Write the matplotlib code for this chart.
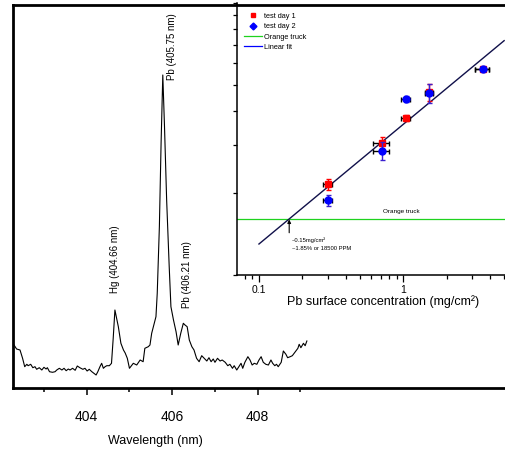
import matplotlib
matplotlib.use("Agg")
import matplotlib.pyplot as plt
from matplotlib.lines import Line2D
from matplotlib.ticker import FixedLocator, NullFormatter, NullLocator

plt.rcParams['font.family'] = ['Liberation Sans', 'DejaVu Sans']

# ---------------- spectrum data ----------------
wavelength = [402.27, 402.30, 402.36, 402.44, 402.50, 402.55, 402.60, 402.63, 402.69, 402.74,
              402.79, 402.83, 402.89, 402.95, 403.00, 403.05, 403.08, 403.13, 403.20, 403.26,
              403.30, 403.36, 403.42, 403.47, 403.52, 403.57, 403.61, 403.67, 403.73, 403.78,
              403.84, 403.91, 403.96, 404.01, 404.06, 404.12, 404.17, 404.22, 404.26, 404.31,
              404.35, 404.39, 404.43, 404.47, 404.53, 404.58, 404.62, 404.66, 404.74, 404.80,
              404.86, 404.90, 404.95, 405.00, 405.09, 405.17, 405.25, 405.32, 405.36, 405.44,
              405.48, 405.52, 405.56, 405.62, 405.65, 405.70, 405.74, 405.78, 405.82, 405.87,
              405.93, 405.97, 406.03, 406.09, 406.14, 406.20, 406.26, 406.30, 406.35, 406.40,
              406.46, 406.51, 406.57, 406.63, 406.69, 406.75, 406.81, 406.86, 406.91, 406.96,
              407.00, 407.06, 407.12, 407.17, 407.24, 407.30, 407.35, 407.41, 407.45, 407.51,
              407.56, 407.61, 407.65, 407.70, 407.77, 407.82, 407.87, 407.92, 407.98, 408.03,
              408.08, 408.13, 408.19, 408.25, 408.31, 408.35, 408.40, 408.44, 408.48, 408.55,
              408.60, 408.66, 408.70, 408.76, 408.81, 408.87, 408.94, 408.97, 409.01, 409.07,
              409.11, 409.15]
intensity = [450, 430, 390, 380, 297, 213, 237, 223, 237, 203,
             213, 187, 203, 180, 207, 190, 203, 163, 157, 163,
             180, 197, 180, 197, 173, 190, 180, 197, 177, 220,
             203, 187, 197, 170, 187, 163, 147, 130, 163, 213,
             247, 197, 213, 223, 223, 247, 497, 780, 613, 447,
             380, 350, 297, 197, 247, 230, 280, 263, 397, 413,
             430, 547, 613, 713, 947, 1613, 2447, 3130, 2613, 1880,
             1213, 813, 680, 563, 430, 547, 647, 630, 613, 480,
             413, 380, 297, 263, 323, 297, 270, 303, 263, 290,
             257, 297, 270, 280, 257, 223, 237, 197, 223, 180,
             213, 247, 197, 257, 313, 280, 230, 247, 237, 280,
             313, 257, 237, 230, 280, 247, 223, 237, 213, 257,
             370, 337, 303, 313, 323, 357, 397, 437, 403, 447,
             423, 470]

peak_labels = ["Hg (404.66 nm)", "Pb (405.75 nm)", "Pb (406.21 nm)"]
peak_label_x = [404.66, 405.99, 406.34]
peak_label_y = [950, 3080, 800]

x_major = [402, 404, 406, 408]
x_minor = [403, 405, 407, 409]

# ---------------- inset data ----------------
conc = [0.30, 0.71, 1.04, 1.51, 3.55]
conc_err = [0.02, 0.09, 0.07, 0.10, 0.40]
day1 = [2.16, 3.05, 3.77, 4.70, 5.72]
day1_err = [0.10, 0.17, 0.10, 0.33, 0.10]
day2 = [1.88, 2.86, 4.43, 4.66, 5.72]
day2_err = [0.09, 0.22, 0.11, 0.37, 0.08]
fit_x = [0.1, 5.0]
fit_y = [1.30, 7.27]
orange_truck_level = 1.60
detect_limit = 0.162

fig = plt.figure(figsize=(5.06, 4.51), dpi=100)
W, H = 506.0, 451.0

# ---------------- main axes ----------------
ax = fig.add_axes([13 / W, 1 - 388 / H, 518.3 / W, 383 / H])
ax.plot(wavelength, intensity, color='black', lw=0.8)
ax.set_xlim(402.276, 414.40)
ax.set_ylim(0, 3830)
ax.spines['right'].set_visible(False)
for s in ['left', 'bottom', 'top']:
    ax.spines[s].set_linewidth(2.0)
ax.xaxis.set_major_locator(FixedLocator(x_major))
ax.xaxis.set_minor_locator(FixedLocator(x_minor))
ax.set_xticklabels([str(v) for v in x_major])
ax.yaxis.set_major_locator(NullLocator())
ax.tick_params(axis='x', which='major', direction='out', length=5, width=1.1,
               labelsize=10, pad=11)
ax.tick_params(axis='x', which='minor', direction='out', length=3, width=1.1)
for lab, lx, ly in zip(peak_labels, peak_label_x, peak_label_y):
    ax.text(lx, ly, lab, rotation=90, ha='center', va='bottom', fontsize=7)
fig.text(155 / W, 1 - 441 / H, "Wavelength (nm)", ha='center', va='center', fontsize=9)

# ---------------- inset axes ----------------
ax2 = fig.add_axes([236.7 / W, 1 - 275 / H, 283.3 / W, 272 / H])
ax2.patch.set_visible(False)
ax2.set_xscale('log')
ax2.set_yscale('log')
ax2.set_xlim(0.0701, 6.44)
ax2.set_ylim(1, 10)
ax2.spines['right'].set_visible(False)
ax2.spines['top'].set_visible(False)
for s in ['left', 'bottom']:
    ax2.spines[s].set_linewidth(1.1)

fit_color = '#10104a'
green = '#1ed21e'
ax2.axhline(orange_truck_level, color=green, lw=0.9, zorder=1)
ax2.plot(fit_x, fit_y, color=fit_color, lw=1.0, zorder=2)

ax2.errorbar(conc, day1, yerr=day1_err, fmt='none', ecolor='red', elinewidth=1.0,
             capsize=1.8, capthick=1.0, zorder=3)
ax2.errorbar(conc, day1, xerr=conc_err, fmt='none', ecolor='black', elinewidth=1.0,
             capsize=1.8, capthick=1.0, zorder=3)
ax2.plot(conc, day1, 's', color='red', ms=4.5, mec='red', zorder=4)
ax2.errorbar(conc, day2, yerr=day2_err, fmt='none', ecolor='#3a1fd0', elinewidth=1.0,
             capsize=1.8, capthick=1.0, zorder=5)
ax2.errorbar(conc, day2, xerr=conc_err, fmt='none', ecolor='black', elinewidth=1.0,
             capsize=1.8, capthick=1.0, zorder=5)
ax2.plot(conc, day2, 'o', color='blue', ms=5, mec='blue', zorder=6)

ax2.annotate('', xy=(detect_limit, orange_truck_level), xytext=(detect_limit, 1.43),
             arrowprops=dict(arrowstyle='-|>', color='black', lw=0.8, mutation_scale=5,
                             shrinkA=0, shrinkB=0))
ax2.text(0.1685, 1.345, "~0.15mg/cm\u00b2", fontsize=4.2, ha='left', va='center')
ax2.text(0.1685, 1.254, "~1.85% or 18500 PPM", fontsize=4.2, ha='left', va='center')
ax2.text(0.975, 1.71, "Orange truck", fontsize=4.6, ha='center', va='center')

ax2.xaxis.set_major_locator(FixedLocator([0.1, 1]))
ax2.xaxis.set_minor_locator(FixedLocator([0.07, 0.08, 0.09, 0.2, 0.3, 0.4, 0.5, 0.6, 0.7, 0.8, 0.9,
                                          2, 3, 4, 5]))
ax2.set_xticklabels(['0.1', '1'])
ax2.xaxis.set_minor_formatter(NullFormatter())
ax2.yaxis.set_major_locator(FixedLocator([1, 10]))
ax2.yaxis.set_minor_locator(FixedLocator([2, 3, 4, 5, 6, 7, 8, 9]))
ax2.yaxis.set_major_formatter(NullFormatter())
ax2.yaxis.set_minor_formatter(NullFormatter())
ax2.tick_params(axis='x', which='major', direction='out', length=5, width=0.9,
                labelsize=7.5, pad=2)
ax2.tick_params(axis='x', which='minor', direction='out', length=3, width=0.9)
ax2.tick_params(axis='y', which='both', direction='out', length=3, width=0.9)

fig.text(383.5 / W, 1 - 302 / H, "Pb surface concentration (mg/cm\u00b2)",
         ha='center', va='center', fontsize=9)

handles = [Line2D([], [], marker='s', color='red', ls='none', ms=3.5),
           Line2D([], [], marker='D', color='blue', ls='none', ms=3.5),
           Line2D([], [], color=green, lw=0.9),
           Line2D([], [], color='blue', lw=0.9)]
labels = ["test day 1", "test day 2", "Orange truck", "Linear fit"]
fig.legend(handles, labels, loc='upper left', bbox_to_anchor=(244 / W, 1 - 12.5 / H),
           frameon=False, fontsize=5.3, borderpad=0, borderaxespad=0,
           handlelength=2.4, handletextpad=0.25, labelspacing=0.45)

fig.savefig("out.png", dpi=100)
